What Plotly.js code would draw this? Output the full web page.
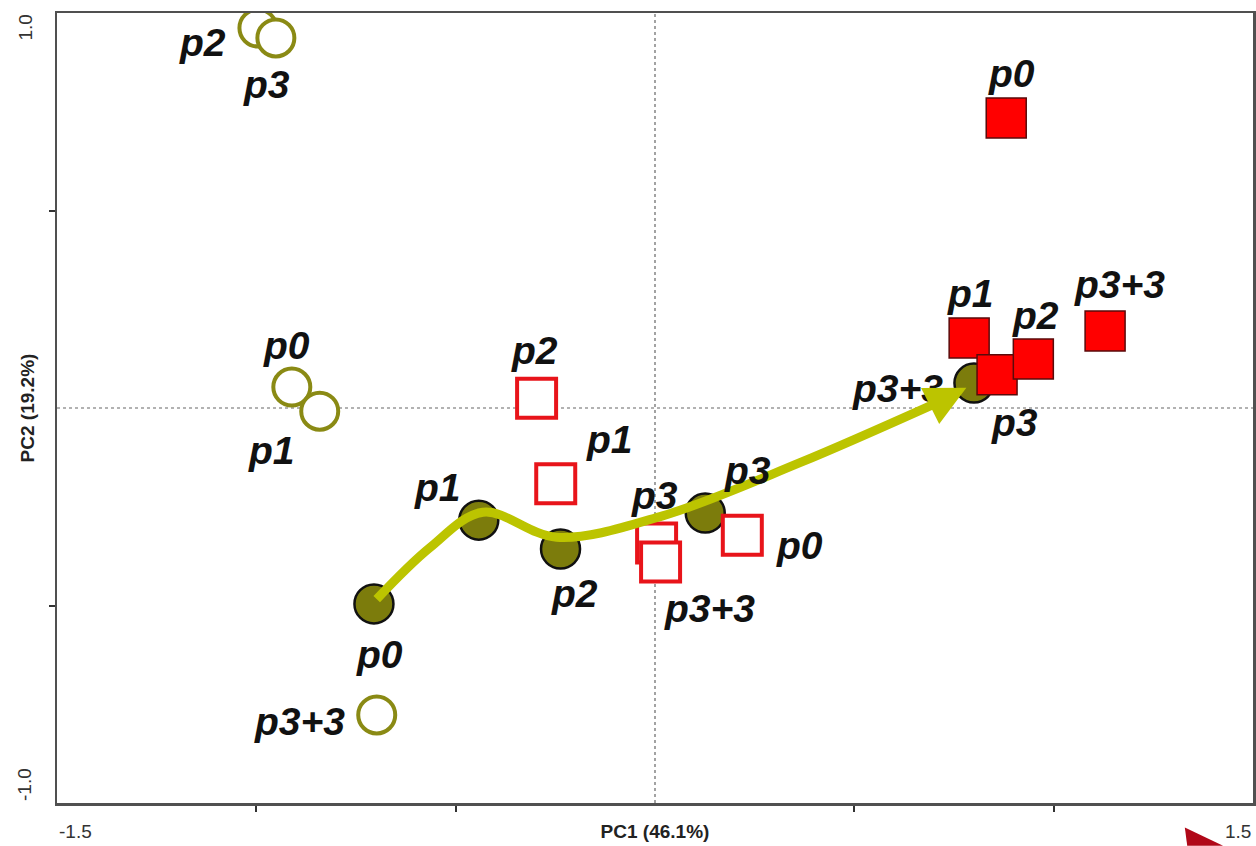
<!DOCTYPE html>
<html>
<head>
<meta charset="utf-8">
<script src="https://cdn.plot.ly/plotly-3.0.1.min.js"></script>
<style>html,body{margin:0;padding:0;background:#fff;}#chart{width:1256px;height:846px;}</style>
</head>
<body>
<div id="chart"></div>
<script>
// ---- data (PC1, PC2 scores) ----
const openCircleLabels = ['p2', 'p3', 'p0', 'p1', 'p3+3'];
const openCircleX = [-0.996, -0.951, -0.911, -0.841, -0.698];
const openCircleY = [0.962, 0.937, 0.053, -0.008, -0.777];

const filledCircleLabels = ['p0', 'p1', 'p2', 'p3', 'p3+3'];
const filledCircleX = [-0.705, -0.442, -0.237, 0.126, 0.800];
const filledCircleY = [-0.496, -0.284, -0.357, -0.266, 0.063];

const openSquareLabels = ['p2', 'p1', 'p3', 'p3+3', 'p0'];
const openSquareX = [-0.297, -0.249, 0.004, 0.014, 0.219];
const openSquareY = [0.025, -0.192, -0.342, -0.390, -0.322];

const filledSquareLabels = ['p0', 'p1', 'p3', 'p2', 'p3+3'];
const filledSquareX = [0.881, 0.788, 0.858, 0.949, 1.129];
const filledSquareY = [0.734, 0.177, 0.084, 0.124, 0.195];

// trajectory arrow drawn through the filled-circle series (last point = arrow tip)
const arrowX = [-0.698, -0.565, -0.432, -0.247, 0.019, 0.362, 0.700, 0.781];
const arrowY = [-0.484, -0.354, -0.264, -0.327, -0.273, -0.139, 0.010, 0.051];

const xTitle = 'PC1 (46.1%)';
const yTitle = 'PC2 (19.2%)';
const xRange = [-1.5, 1.5];
const yRange = [-1.0, 1.0];
const xTickVals = [-1.0, -0.5, 0.5, 1.0];
const yTickVals = [-0.5, 0.5];
const xEndLabels = ['-1.5', '1.5'];
const yEndLabels = ['-1.0', '1.0'];

// ---- label offsets (px) : [dx, dy] screen ----
const openCircleOff = [[-55, 14], [-9, 47], [-5, -42], [-48, 39], [-77, 7]];
const filledCircleOff = [[6, 51], [-41, -33], [14, 44], [42, -43], [-76, 5]];
const openSquareOff = [[-2, -48], [54, -44], [-2, -48], [49, 46], [57, 10]];
const filledSquareOff = [[5, -45], [1, -45], [17, 48], [2, -44], [14, -46]];

const olive = '#8a8a14';
const oliveFill = '#7c7c0c';
const red = '#e8141a';
const arrowColor = '#bcc400';

const nA = arrowX.length;
const traces = [
  {x: openCircleX, y: openCircleY, mode: 'markers', type: 'scatter', hoverinfo: 'skip',
   marker: {symbol: 'circle', size: 37, color: '#ffffff', line: {color: olive, width: 4}}},
  {x: filledCircleX, y: filledCircleY, mode: 'markers', type: 'scatter', hoverinfo: 'skip',
   marker: {symbol: 'circle', size: 39, color: oliveFill, line: {color: '#111111', width: 2.5}}},
  {x: openSquareX, y: openSquareY, mode: 'markers', type: 'scatter', hoverinfo: 'skip',
   marker: {symbol: 'square', size: 39, color: '#ffffff', line: {color: red, width: 4}}},
  {x: arrowX.slice(0, nA - 1), y: arrowY.slice(0, nA - 1), mode: 'lines', type: 'scatter', hoverinfo: 'skip',
   line: {color: arrowColor, width: 9, shape: 'spline', smoothing: 1}},
  {x: filledSquareX, y: filledSquareY, mode: 'markers', type: 'scatter', hoverinfo: 'skip',
   marker: {symbol: 'square', size: 40, color: '#ff0000', line: {color: '#5a0a0a', width: 1.5}}}
];

const labelFont = {family: 'Liberation Sans, Arial, sans-serif', size: 39, color: '#111111', weight: 'bold', style: 'italic'};
const annotations = [];
function addLabels(labels, xs, ys, offs) {
  labels.forEach((t, i) => {
    annotations.push({x: xs[i], y: ys[i], xref: 'x', yref: 'y', text: t, showarrow: false,
      xshift: offs[i][0], yshift: -offs[i][1], font: labelFont, xanchor: 'center', yanchor: 'middle'});
  });
}
addLabels(openCircleLabels, openCircleX, openCircleY, openCircleOff);
addLabels(filledCircleLabels, filledCircleX, filledCircleY, filledCircleOff);
addLabels(openSquareLabels, openSquareX, openSquareY, openSquareOff);
addLabels(filledSquareLabels, filledSquareX, filledSquareY, filledSquareOff);

// arrow head (last segment of the trajectory)
annotations.push({x: arrowX[nA - 1], y: arrowY[nA - 1], xref: 'x', yref: 'y',
  ax: arrowX[nA - 2], ay: arrowY[nA - 2], axref: 'x', ayref: 'y', text: '', showarrow: true,
  arrowhead: 2, arrowsize: 0.9, arrowwidth: 9, arrowcolor: arrowColor});

const tickFont = {family: 'Liberation Sans, Arial, sans-serif', size: 19, color: '#333333'};
annotations.push({xref: 'paper', yref: 'paper', x: 0, y: 0, text: xEndLabels[0], showarrow: false,
  xanchor: 'left', yanchor: 'top', yshift: -16, font: tickFont});
annotations.push({xref: 'paper', yref: 'paper', x: 1, y: 0, text: xEndLabels[1], showarrow: false,
  xanchor: 'right', yanchor: 'top', yshift: -16, font: tickFont});
annotations.push({xref: 'paper', yref: 'paper', x: 0, y: 0, text: yEndLabels[0], showarrow: false,
  xanchor: 'right', yanchor: 'bottom', xshift: -20, textangle: -90, font: tickFont});
annotations.push({xref: 'paper', yref: 'paper', x: 0, y: 1, text: yEndLabels[1], showarrow: false,
  xanchor: 'right', yanchor: 'top', xshift: -20, textangle: -90, font: tickFont});

const layout = {
  width: 1256, height: 846,
  margin: {l: 57, r: 3, t: 13, b: 43},
  paper_bgcolor: '#ffffff', plot_bgcolor: '#ffffff',
  showlegend: false,
  xaxis: {range: xRange, showgrid: false, zeroline: false, showline: true, mirror: true,
    linecolor: '#505050', linewidth: 2.5, ticks: 'outside', ticklen: 6, tickwidth: 2, tickcolor: '#333333',
    tickvals: xTickVals, showticklabels: false,
    title: {text: xTitle, standoff: 14, font: {family: 'Liberation Sans, Arial, sans-serif', size: 19, color: '#222222', weight: 'bold'}}},
  yaxis: {range: yRange, showgrid: false, zeroline: false, showline: true, mirror: true,
    linecolor: '#505050', linewidth: 2.5, ticks: 'outside', ticklen: 6, tickwidth: 2, tickcolor: '#333333',
    tickvals: yTickVals, showticklabels: false,
    title: {text: yTitle, standoff: 9, font: {family: 'Liberation Sans, Arial, sans-serif', size: 19, color: '#222222', weight: 'bold'}}},
  shapes: [
    {type: 'line', xref: 'x', yref: 'paper', x0: 0, x1: 0, y0: 0, y1: 1, line: {color: '#666666', width: 1.2, dash: 'dot'}, layer: 'below'},
    {type: 'line', xref: 'paper', yref: 'y', x0: 0, x1: 1, y0: 0, y1: 0, line: {color: '#666666', width: 1.2, dash: 'dot'}, layer: 'below'},
    {type: 'path', xref: 'paper', yref: 'paper', path: 'M 0.943,-0.031 L 0.975,-0.054 L 0.945,-0.054 Z', fillcolor: '#b00818', line: {width: 0}}
  ],
  annotations: annotations
};

Plotly.newPlot('chart', traces, layout, {staticPlot: true, displayModeBar: false});
</script>
</body>
</html>
